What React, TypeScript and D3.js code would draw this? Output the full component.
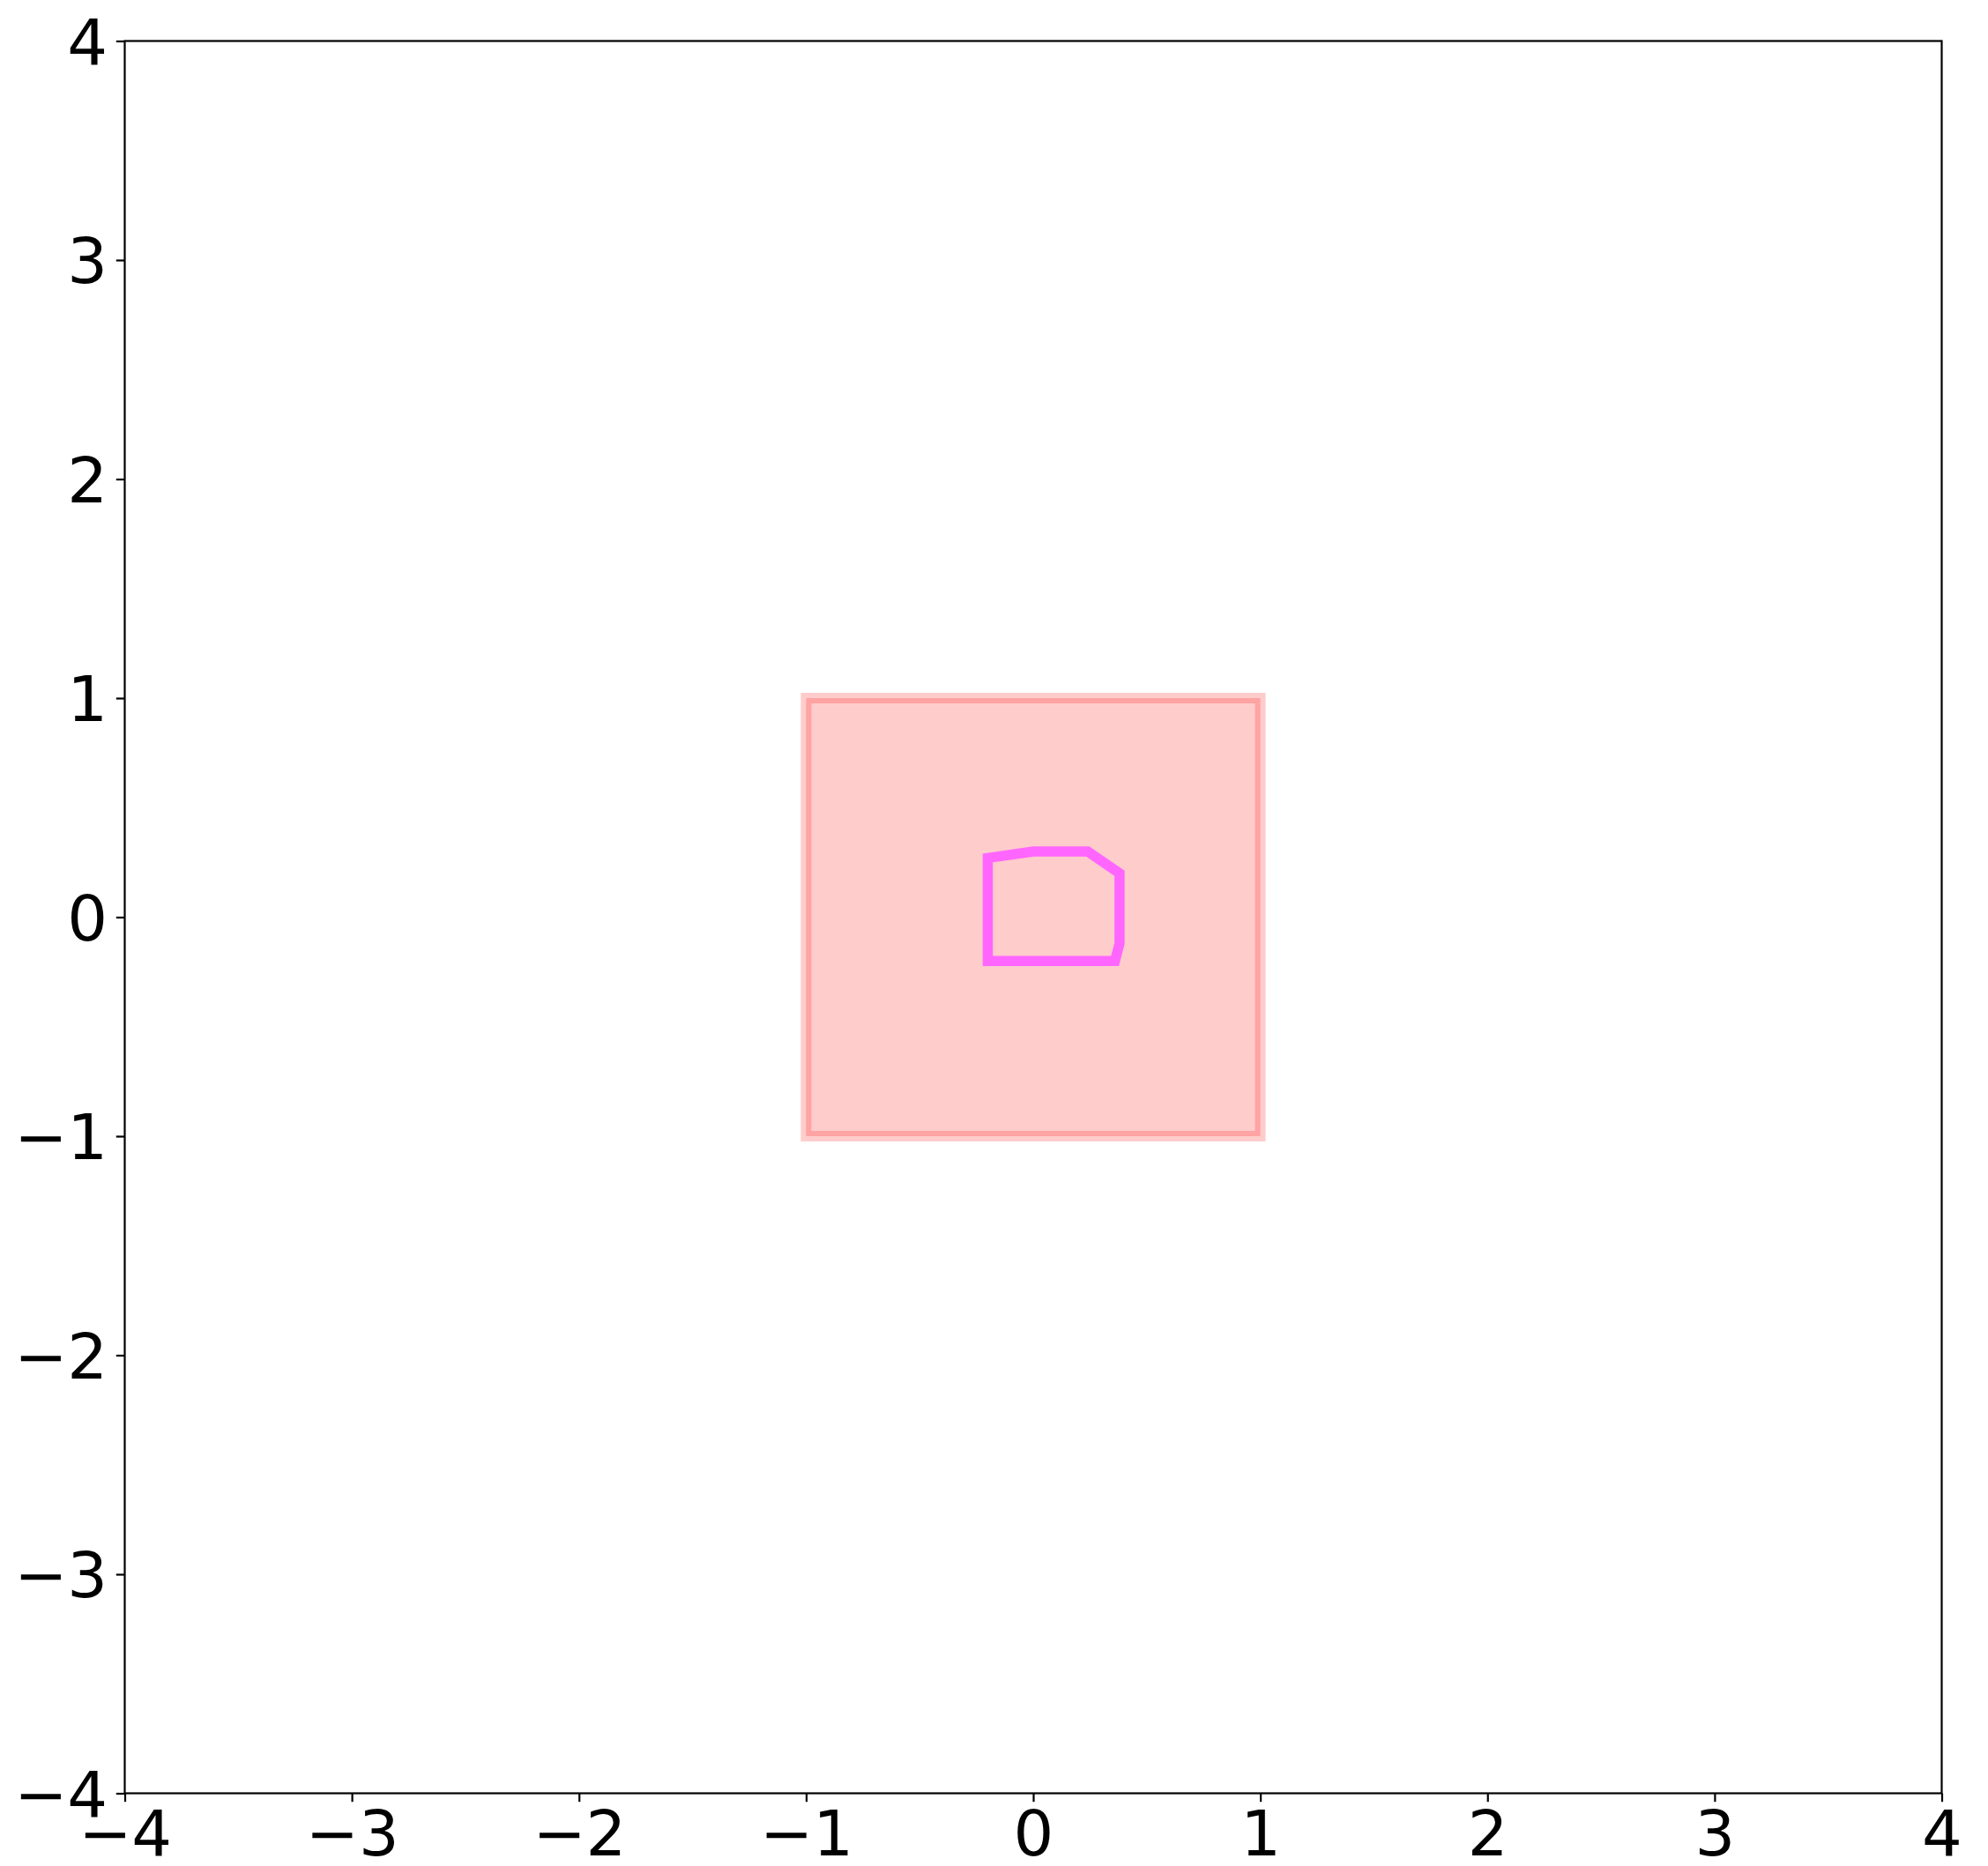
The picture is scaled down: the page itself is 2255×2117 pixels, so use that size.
import React, { useEffect, useRef } from "react";
import { select, scaleLinear, axisBottom, axisLeft, line, format } from "d3";

const xTicks = [-4, -3, -2, -1, 0, 1, 2, 3, 4];
const yTicks = [-4, -3, -2, -1, 0, 1, 2, 3, 4];

// square patch corners
const squareX = [-1, 1];
const squareY = [-1, 1];

// the magenta outline
const shapeX = [-0.2, -0.2, 0, 0.24, 0.38, 0.38, 0.36];
const shapeY = [-0.2, 0.27, 0.3, 0.3, 0.2, -0.12, -0.2];

const W = 2255;
const H = 2117;
const left = 141.5;
const right = 2202.5;
const top = 46.5;
const bottom = 2034.5;

const App = () => {
  const ref = useRef<SVGSVGElement>(null);

  useEffect(() => {
    const svg = select(ref.current);
    svg.selectAll("*").remove();

    const x = scaleLinear().domain([-4, 4]).range([left, right]);
    const y = scaleLinear().domain([-4, 4]).range([bottom, top]);

    // pink square, edge and face both red at alpha 0.2
    svg
      .append("rect")
      .attr("x", x(squareX[0]))
      .attr("y", y(squareY[1]))
      .attr("width", x(squareX[1]) - x(squareX[0]))
      .attr("height", y(squareY[0]) - y(squareY[1]))
      .attr("fill", "red")
      .attr("fill-opacity", 0.2)
      .attr("stroke", "red")
      .attr("stroke-opacity", 0.2)
      .attr("stroke-width", 12);

    const pts: [number, number][] = shapeX.map((v, i) => [v, shapeY[i]]);
    const path = line<[number, number]>()
      .x((d) => x(d[0]))
      .y((d) => y(d[1]));

    svg
      .append("path")
      .attr("d", path(pts) + "Z")
      .attr("fill", "none")
      .attr("stroke", "#ff66ff")
      .attr("stroke-width", 11.5)
      .attr("stroke-linejoin", "miter");

    const fmt = format("d");

    const xAxis = axisBottom(x)
      .tickValues(xTicks)
      .tickFormat((d) => fmt(d as number))
      .tickSizeInner(9.7)
      .tickSizeOuter(0)
      .tickPadding(9.7);
    const yAxis = axisLeft(y)
      .tickValues(yTicks)
      .tickFormat((d) => fmt(d as number))
      .tickSizeInner(9.7)
      .tickSizeOuter(0)
      .tickPadding(9.7);

    const gx = svg
      .append("g")
      .attr("transform", `translate(0,${bottom})`)
      .call(xAxis);
    const gy = svg
      .append("g")
      .attr("transform", `translate(${left},0)`)
      .call(yAxis);

    [gx, gy].forEach((g) => {
      g.select(".domain").remove();
      g.selectAll(".tick line").attr("stroke", "#000").attr("stroke-width", 2.2);
      g.selectAll(".tick text")
        .attr("fill", "#000")
        .style("font-family", "'DejaVu Sans', sans-serif")
        .style("font-size", "72px");
    });
    gy.selectAll(".tick text").attr("dy", "0.36em");

    // frame
    svg
      .append("rect")
      .attr("x", left)
      .attr("y", top)
      .attr("width", right - left)
      .attr("height", bottom - top)
      .attr("fill", "none")
      .attr("stroke", "#000")
      .attr("stroke-width", 2.2);
  }, []);

  return (
    <svg
      ref={ref}
      width={W}
      height={H}
      style={{ position: "absolute", left: 0, top: 0, display: "block", background: "#fff" }}
    />
  );
};

export default App;
